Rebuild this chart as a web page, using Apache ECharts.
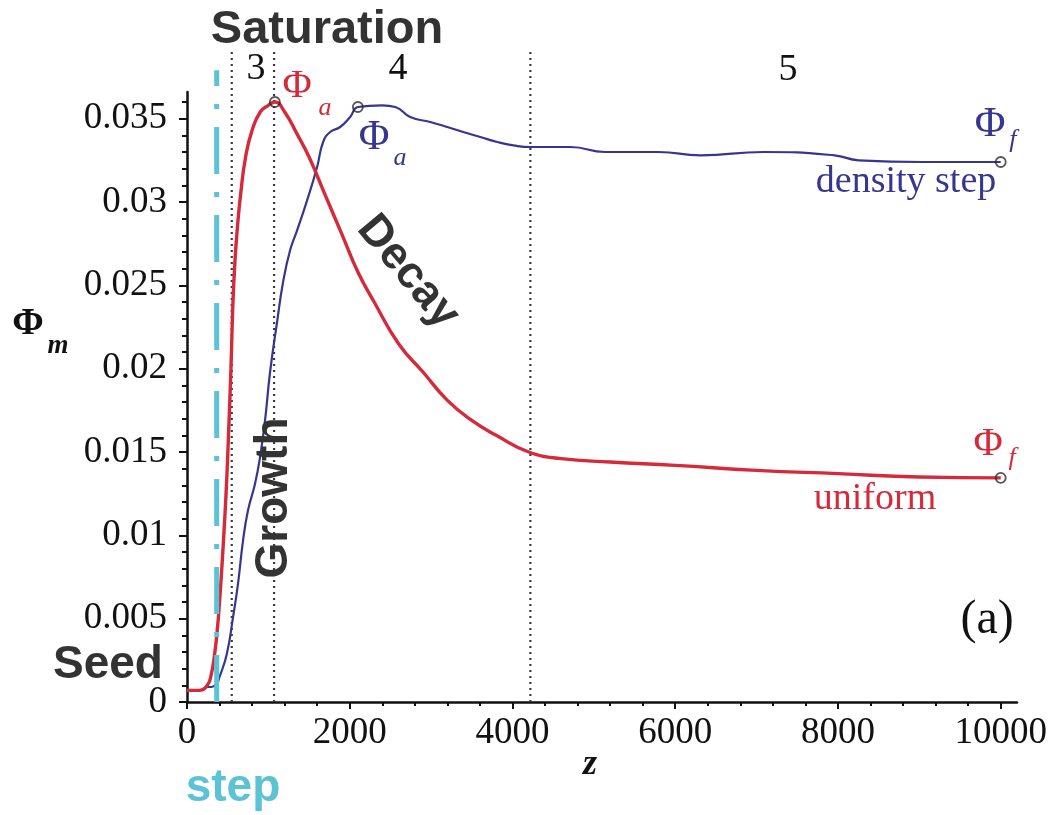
<!DOCTYPE html>
<html>
<head>
<meta charset="utf-8">
<script src="https://cdn.jsdelivr.net/npm/echarts@6/dist/echarts.min.js"></script>
<style>
  html, body { margin: 0; padding: 0; background: #ffffff; }
  #chart { width: 1051px; height: 815px; }
</style>
</head>
<body>
<div id="chart"></div>
<script>
// Axis ticks and labels
const xTickValues = [0, 2000, 4000, 6000, 8000, 10000];
const xTickLabels = ['0', '2000', '4000', '6000', '8000', '10000'];
const yTickValues = [0, 0.005, 0.01, 0.015, 0.02, 0.025, 0.03, 0.035];
const yTickLabels = ['0', '0.005', '0.01', '0.015', '0.02', '0.025', '0.03', '0.035'];

// Φm along z, uniform plasma
const uniformZ = [0, 150, 250, 300, 340, 370, 400, 440, 480, 510, 540, 565, 590, 620, 660, 720, 800, 900, 1000, 1080,
  1200, 1350, 1500, 1700, 1900, 2100, 2300, 2600, 2900, 3200, 3500, 3800, 4200, 4600, 5200, 6000, 7000, 8000, 9000, 10000];
const uniformPhi = [0.0007, 0.0007, 0.0010, 0.0017, 0.0029, 0.0042, 0.0060, 0.0090, 0.0125, 0.0160, 0.0200, 0.0240, 0.0265, 0.0285, 0.0305, 0.0327, 0.0343, 0.0354, 0.0358, 0.0360,
  0.0354, 0.0341, 0.0327, 0.0304, 0.0281, 0.0258, 0.0240, 0.0215, 0.0198, 0.0181, 0.0169, 0.0160, 0.0150, 0.0146, 0.0144, 0.0142, 0.0139, 0.0137, 0.0135, 0.01345];

// Φm along z, plasma with a density step
const stepZ = [0, 150, 250, 300, 365, 400, 490, 566, 627, 689, 750, 836, 898, 959, 1021, 1107, 1181, 1267, 1353, 1476,
  1599, 1673, 1759, 1882, 2005, 2100, 2400, 2560, 2743, 2989, 3198, 3395, 3604, 3813, 4010, 4219, 4711, 5141, 5793, 6310,
  7085, 7958, 8253, 9041, 10000];
const stepPhi = [0.0007, 0.0007, 0.0009, 0.0009, 0.0011, 0.0015, 0.0029, 0.0051, 0.0071, 0.0097, 0.0115, 0.0131, 0.0147, 0.0169, 0.0198, 0.0228, 0.0252, 0.0271, 0.0283, 0.0301,
  0.0321, 0.0336, 0.0342, 0.0345, 0.0351, 0.0357, 0.0358, 0.0357, 0.0351, 0.0348, 0.0345, 0.0342, 0.0339, 0.0336, 0.0334, 0.0333, 0.0333, 0.0330, 0.0330, 0.0328,
  0.0330, 0.0328, 0.0325, 0.0324, 0.0324];

// Φa (peak) and Φf (final) points: uniform Φa, step Φa, uniform Φf, step Φf
const markerZ = [1080, 2100, 10000, 10000];
const markerPhi = [0.0360, 0.0357, 0.01345, 0.0324];

// Stage boundaries (dotted) and position of the density step
const boundaryZ = [550, 1070, 4220];
const densityStepZ = [365];

const X_MAX = 10200;
const Y_MAX = 0.0366;
const GUIDE_TOP = 0.0390;
const STEP_TOP = 0.0379;

const SERIF = 'Liberation Serif';
const SANS = 'Liberation Sans';
const INK = '#111111';
const RED = '#d42a3a';
const BLUE = '#363691';
const CYAN = '#5bc3d3';
const DARK = '#333333';

const xMinor = [];
for (let z = 0; z <= 10000; z += 400) xMinor.push(z);
const yMinor = [];
for (let k = 0; k <= 36; k++) yMinor.push(k / 1000);

const pairs = (xs, ys) => xs.map((x, i) => [x, ys[i]]);
const nearestLabel = (vals, labels, v) => {
  let best = 0;
  vals.forEach((t, i) => { if (Math.abs(t - v) < Math.abs(vals[best] - v)) best = i; });
  return Math.abs(vals[best] - v) < 1e-9 + Math.abs(vals[1] - vals[0]) * 0.01 ? labels[best] : '';
};

const chart = echarts.init(document.getElementById('chart'));

const verticalGuide = (topValue, style) => (params, api) => {
  const z = api.value(0);
  const p0 = api.coord([z, 0]);
  const p1 = api.coord([z, topValue]);
  return { type: 'line', shape: { x1: p0[0], y1: p0[1], x2: p1[0], y2: p1[1] }, style: style };
};

chart.setOption({
  animation: false,
  backgroundColor: '#ffffff',
  grid: { left: 187, right: 34, top: 92, bottom: 113 },
  xAxis: [
    {
      type: 'value', min: 0, max: X_MAX, interval: 2000, position: 'bottom',
      axisLine: { show: true, onZero: false, lineStyle: { color: INK, width: 2.5 } },
      axisTick: { show: true, customValues: xTickValues, length: 7, lineStyle: { color: INK, width: 2 } },
      axisLabel: {
        customValues: xTickValues, margin: 13, color: INK, fontFamily: SERIF, fontSize: 37,
        formatter: v => nearestLabel(xTickValues, xTickLabels, v)
      },
      splitLine: { show: false }
    },
    {
      type: 'value', min: 0, max: X_MAX, interval: 400, position: 'bottom',
      axisLine: { show: false },
      axisTick: { show: true, customValues: xMinor, length: 4, lineStyle: { color: INK, width: 2 } },
      axisLabel: { show: false },
      splitLine: { show: false }
    }
  ],
  yAxis: [
    {
      type: 'value', min: 0, max: Y_MAX, interval: 0.005, position: 'left',
      axisLine: { show: true, onZero: false, lineStyle: { color: INK, width: 2.5 } },
      axisTick: { show: true, customValues: yTickValues, length: 8, lineStyle: { color: INK, width: 2 } },
      axisLabel: {
        customValues: yTickValues, margin: 20, color: INK, fontFamily: SERIF, fontSize: 37,
        formatter: v => nearestLabel(yTickValues, yTickLabels, v)
      },
      splitLine: { show: false }
    },
    {
      type: 'value', min: 0, max: Y_MAX, interval: 0.001, position: 'left',
      axisLine: { show: false },
      axisTick: { show: true, customValues: yMinor, length: 5, lineStyle: { color: INK, width: 2 } },
      axisLabel: { show: false },
      splitLine: { show: false }
    }
  ],
  series: [
    {
      name: 'stage boundaries', type: 'custom', xAxisIndex: 0, yAxisIndex: 0, z: 1, clip: false,
      data: boundaryZ.map(z => [z, 0]),
      encode: { x: 0, y: 1 },
      renderItem: verticalGuide(GUIDE_TOP, { stroke: '#3a3a3a', lineWidth: 2.2, lineDash: [2, 4], fill: null })
    },
    {
      name: 'density step', type: 'line', xAxisIndex: 0, yAxisIndex: 0, z: 3,
      data: pairs(stepZ, stepPhi), showSymbol: false, symbol: 'none',
      smooth: 0.5,
      lineStyle: { color: BLUE, width: 2.2 }
    },
    {
      name: 'uniform', type: 'line', xAxisIndex: 0, yAxisIndex: 0, z: 4,
      data: pairs(uniformZ, uniformPhi), showSymbol: false, symbol: 'none',
      smooth: 0.5,
      lineStyle: { color: RED, width: 3.4 }
    },
    {
      name: 'step', type: 'custom', xAxisIndex: 0, yAxisIndex: 0, z: 6, clip: false,
      data: densityStepZ.map(z => [z, 0]),
      encode: { x: 0, y: 1 },
      renderItem: verticalGuide(STEP_TOP, { stroke: CYAN, lineWidth: 5, lineDash: [47, 18, 5, 18], fill: null })
    },
    {
      name: 'Φa / Φf', type: 'scatter', xAxisIndex: 0, yAxisIndex: 0, z: 7,
      data: pairs(markerZ, markerPhi),
      symbol: 'circle', symbolSize: 10,
      itemStyle: { color: 'rgba(0,0,0,0)', borderColor: '#2a2a2a', borderWidth: 1.8 },
      silent: true
    }
  ]
});

const px = (z, v) => chart.convertToPixel({ gridIndex: 0 }, [z, v]);

function label(pos, text, o) {
  return {
    type: 'text', x: pos[0], y: pos[1], rotation: o.rotation || 0, z: 100,
    style: {
      text: text, fill: o.color, fontFamily: o.family, fontSize: o.size,
      fontWeight: o.weight || 'normal', fontStyle: o.italic ? 'italic' : 'normal',
      align: 'center', verticalAlign: 'middle'
    }
  };
}

const bold = (size, color) => ({ family: SANS, size: size, weight: 'bold', color: color || DARK });
const serif = (size, color, italic) => ({ family: SERIF, size: size, color: color, italic: !!italic });

chart.setOption({
  graphic: [
    // stage numbers above the frame
    label(px(848, 0.0380), '3', serif(38, INK)),
    label(px(2593, 0.0380), '4', serif(38, INK)),
    label(px(7386, 0.0379), '5', serif(38, INK)),

    // Φa markers
    label(px(1352, 0.03696), 'Φ', serif(40, RED)),
    label(px(1696, 0.0356), 'a', serif(26, RED, true)),
    label(px(2298, 0.03384), 'Φ', serif(42, BLUE)),
    label(px(2618, 0.03264), 'a', serif(26, BLUE, true)),

    // Φf markers and curve names
    label(px(9868, 0.03462), 'Φ', serif(42, BLUE)),
    label(px(10150, 0.0337), 'f', serif(26, BLUE, true)),
    label(px(8836, 0.0312), 'density step', serif(38, BLUE)),
    label(px(9844, 0.01548), 'Φ', serif(40, RED)),
    label(px(10140, 0.0146), 'f', serif(26, RED, true)),
    label(px(8455, 0.0122), 'uniform', serif(38, RED)),

    // panel tag
    label(px(9832, 0.0049), '(a)', serif(48, INK)),

    // stage annotations
    label([327, 30], 'Saturation', bold(47)),
    label([108, 665], 'Seed', bold(46)),
    label(px(1069, 0.01224), 'Growth', Object.assign(bold(46), { rotation: Math.PI / 2 })),
    label(px(2716, 0.0258), 'Decay', Object.assign(bold(45), { rotation: -50 * Math.PI / 180 })),
    label([233, 788], 'step', bold(46, CYAN)),

    // axis titles
    label([28, 324], 'Φ', { family: SERIF, size: 38, weight: 'bold', color: INK }),
    label([58, 346], 'm', { family: SERIF, size: 27, weight: 'bold', italic: true, color: INK }),
    label([590, 765], 'z', { family: SERIF, size: 36, weight: 'bold', italic: true, color: INK })
  ]
});
</script>
</body>
</html>
